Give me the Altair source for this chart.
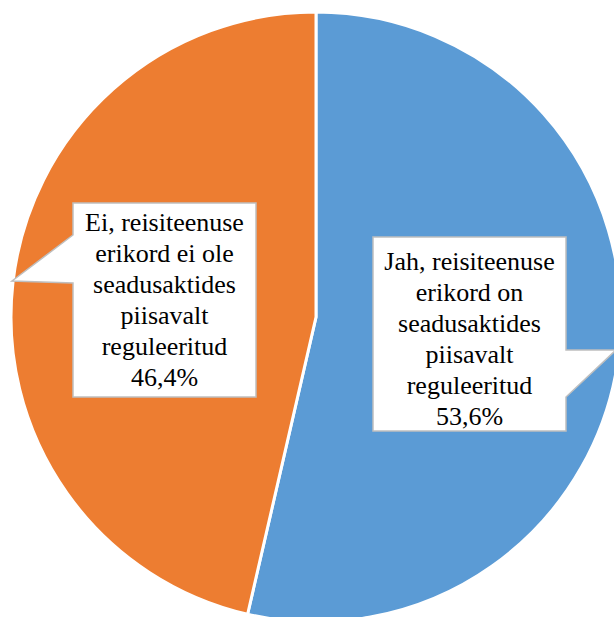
import altair as alt
import pandas as pd

categories = [
    "Jah, reisiteenuse erikord on seadusaktides piisavalt reguleeritud",
    "Ei, reisiteenuse erikord ei ole seadusaktides piisavalt reguleeritud",
]
values = [53.6, 46.4]
label_lines = [
    ["Jah, reisiteenuse", "erikord on", "seadusaktides", "piisavalt", "reguleeritud"],
    ["Ei, reisiteenuse", "erikord ei ole", "seadusaktides", "piisavalt", "reguleeritud"],
]
colors = ["#5b9bd5", "#ed7d31"]

df = pd.DataFrame({
    "category": categories,
    "value": values,
    "idx": list(range(len(categories))),
})

W, H = 614, 617
CX, CY, R = 316, 317, 305

pie = alt.Chart(df).mark_arc(radius=R, stroke="white", strokeWidth=3).encode(
    theta=alt.Theta("value:Q", stack=True),
    color=alt.Color("category:N", scale=alt.Scale(domain=categories, range=colors), legend=None),
    order=alt.Order("idx:Q"),
    x=alt.value(CX),
    y=alt.value(CY),
)

# callout bubbles (annotation geometry)
bubble_paths = [
    "M373,237 L566,237 L566,350 L616,350 L566,397 L566,431 L373,431 Z",
    "M73,203 L256,203 L256,397 L73,397 L73,283 L12,281 L73,235 Z",
]
text_anchor = [(469.5, 262), (164.5, 223)]

layers = [pie]
for i, cat in enumerate(categories):
    txt = "\n".join(label_lines[i] + [f"{values[i]:.1f}".replace(".", ",") + "%"])
    sub = pd.DataFrame({"category": [cat], "label": [txt]})
    bubble = alt.Chart(sub).mark_point(
        shape=bubble_paths[i], size=4, filled=True, fill="white", opacity=1,
        stroke="#bfbfbf", strokeWidth=1.5, strokeOpacity=1, fillOpacity=1,
    ).encode(x=alt.value(0), y=alt.value(0))
    text = alt.Chart(sub).mark_text(
        font="Liberation Serif", fontSize=26, color="black", lineBreak="\n",
        lineHeight=31, align="center", baseline="middle",
    ).encode(
        text="label:N",
        x=alt.value(text_anchor[i][0]),
        y=alt.value(text_anchor[i][1]),
    )
    layers += [bubble, text]

chart = alt.layer(*layers).properties(
    width=W, height=H, padding=0, autosize=alt.AutoSizeParams(type="none")
).configure_view(stroke=None)

chart.save("out.html", embed_options={"renderer": "svg", "actions": False})
